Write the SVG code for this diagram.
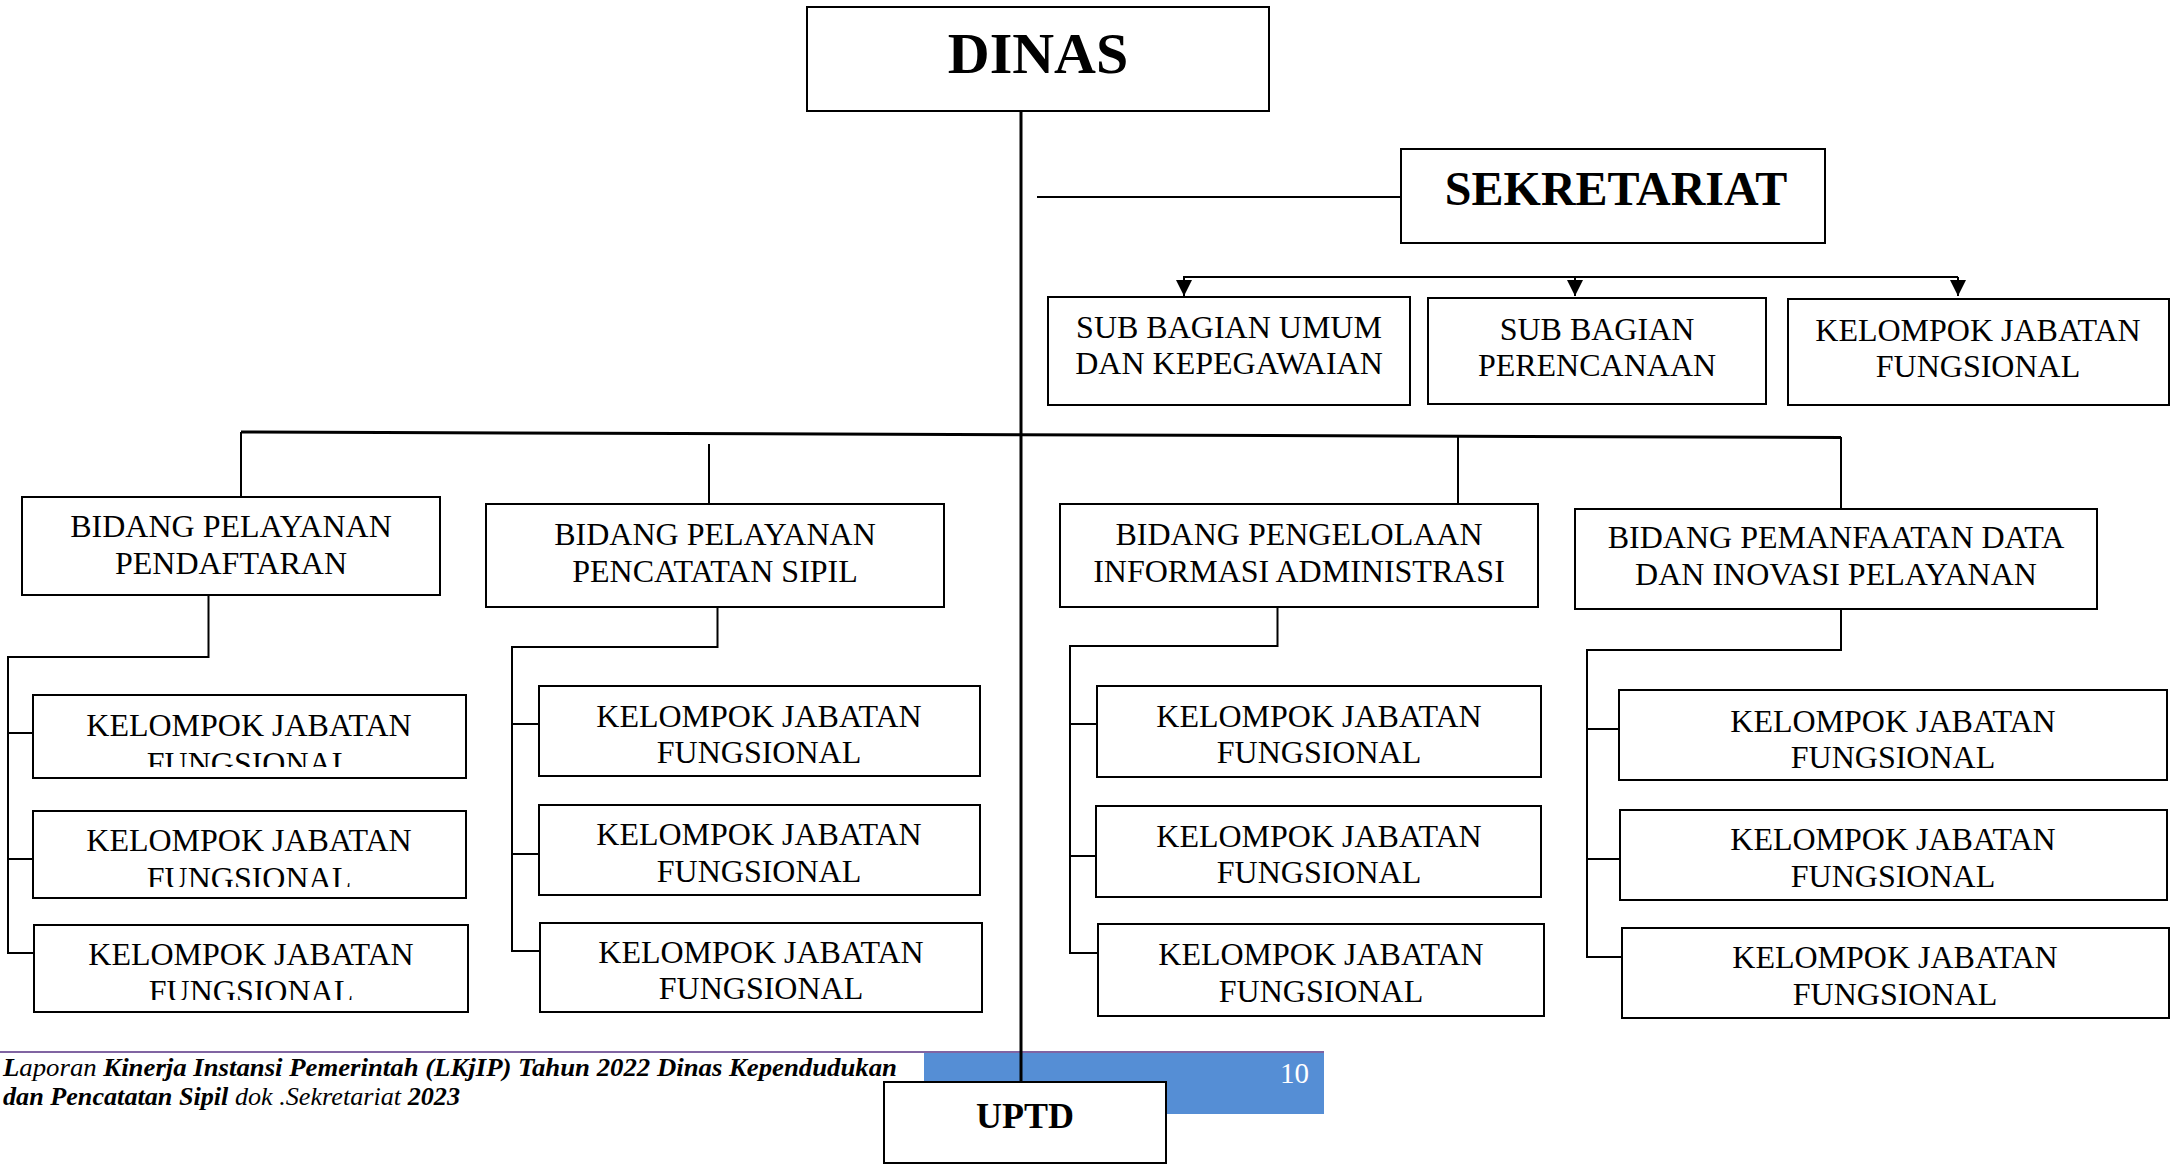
<svg xmlns="http://www.w3.org/2000/svg" width="2179" height="1168" viewBox="0 0 2179 1168">
<defs>
<style>
.box{fill:#fff;stroke:#000;stroke-width:2}
.t{font-family:"Liberation Serif","Times New Roman",serif;font-size:32px;fill:#000;text-anchor:middle}
.tb{font-family:"Liberation Serif","Times New Roman",serif;font-weight:bold;fill:#000;text-anchor:middle}
.ln{fill:none;stroke:#000;stroke-width:2}
.thick{fill:none;stroke:#000;stroke-width:3}
.ft{font-family:"Liberation Serif","Times New Roman",serif;font-size:25px;fill:#000}
</style>
<marker id="arr" viewBox="0 0 16 16" refX="16" refY="8" markerWidth="16" markerHeight="16" markerUnits="userSpaceOnUse" orient="auto">
<path d="M0,0 L16,8 L0,16 z" fill="#000"/>
</marker>
<clipPath id="c1"><rect x="33" y="690" width="433" height="77"/></clipPath>
<clipPath id="c2"><rect x="33" y="805" width="433" height="82"/></clipPath>
<clipPath id="c3"><rect x="34" y="920" width="434" height="80"/></clipPath>
</defs>
<rect width="2179" height="1168" fill="#fff"/>

<g id="footer">
<rect x="924" y="1052" width="400" height="62" fill="#558ED5"/>
<line x1="0" y1="1052" x2="1324" y2="1052" stroke="#8064A2" stroke-width="2"/>
<text x="1309" y="1083" font-family="Liberation Serif, serif" font-size="29" fill="#fff" text-anchor="end">10</text>
<text class="ft" x="3" y="1076" textLength="894" lengthAdjust="spacingAndGlyphs"><tspan font-style="italic" font-weight="bold">L</tspan><tspan font-style="italic">aporan </tspan><tspan font-style="italic" font-weight="bold">Kinerja Instansi Pemerintah (LKjIP) Tahun 2022 Dinas Kependudukan</tspan></text>
<text class="ft" x="3" y="1105" textLength="457" lengthAdjust="spacingAndGlyphs"><tspan font-style="italic" font-weight="bold">dan Pencatatan Sipil</tspan><tspan font-style="italic"> dok .Sekretariat </tspan><tspan font-style="italic" font-weight="bold">2023</tspan></text>
</g>

<g id="connectors">
<line class="thick" x1="1021" y1="111" x2="1021" y2="1082"/>
<line class="ln" x1="1037" y1="197" x2="1401" y2="197"/>
<line class="ln" x1="1183" y1="277" x2="1958" y2="277"/>
<line class="ln" x1="1184" y1="277" x2="1184" y2="296" marker-end="url(#arr)"/>
<line class="ln" x1="1575" y1="277" x2="1575" y2="296" marker-end="url(#arr)"/>
<line class="ln" x1="1958" y1="277" x2="1958" y2="296" marker-end="url(#arr)"/>
<line class="thick" x1="241" y1="432" x2="1841" y2="437.5"/>
<line class="ln" x1="241" y1="432" x2="241" y2="497"/>
<line class="ln" x1="709" y1="444" x2="709" y2="504"/>
<line class="ln" x1="1458" y1="435" x2="1458" y2="504"/>
<line class="ln" x1="1841" y1="437" x2="1841" y2="509"/>
<polyline class="ln" points="208.5,580 208.5,657 8,657 8,953 33,953"/>
<line class="ln" x1="8" y1="733" x2="33" y2="733"/>
<line class="ln" x1="8" y1="859" x2="33" y2="859"/>
<polyline class="ln" points="717.5,607 717.5,647 512,647 512,951 540,951"/>
<line class="ln" x1="512" y1="724" x2="539" y2="724"/>
<line class="ln" x1="512" y1="854" x2="539" y2="854"/>
<polyline class="ln" points="1277.5,605 1277.5,646 1070,646 1070,953 1098,953"/>
<line class="ln" x1="1070" y1="724" x2="1097" y2="724"/>
<line class="ln" x1="1070" y1="856" x2="1096" y2="856"/>
<polyline class="ln" points="1841,609 1841,650 1587,650 1587,957 1622,957"/>
<line class="ln" x1="1587" y1="729" x2="1619" y2="729"/>
<line class="ln" x1="1587" y1="859" x2="1620" y2="859"/>
</g>

<g id="dinas">
<rect class="box" x="807" y="7" width="462" height="104"/>
<text class="tb" x="1038" y="73" font-size="58">DINAS</text>
</g>
<g id="sekretariat">
<rect class="box" x="1401" y="149" width="424" height="94"/>
<text class="tb" x="1616" y="205" font-size="48">SEKRETARIAT</text>
</g>
<g id="sub-umum">
<rect class="box" x="1048" y="297" width="362" height="108"/>
<text class="t" x="1229" y="338">SUB BAGIAN UMUM</text>
<text class="t" x="1229" y="374">DAN KEPEGAWAIAN</text>
</g>
<g id="sub-perencanaan">
<rect class="box" x="1428" y="298" width="338" height="106"/>
<text class="t" x="1597" y="340">SUB BAGIAN</text>
<text class="t" x="1597" y="376">PERENCANAAN</text>
</g>
<g id="sek-kjf">
<rect class="box" x="1788" y="299" width="381" height="106"/>
<text class="t" x="1978" y="341">KELOMPOK JABATAN</text>
<text class="t" x="1978" y="377">FUNGSIONAL</text>
</g>

<g id="bidang-pendaftaran">
<rect class="box" x="22" y="497" width="418" height="98"/>
<text class="t" x="231" y="537">BIDANG PELAYANAN</text>
<text class="t" x="231" y="574">PENDAFTARAN</text>
</g>
<g id="bidang-capil">
<rect class="box" x="486" y="504" width="458" height="103"/>
<text class="t" x="715" y="545">BIDANG PELAYANAN</text>
<text class="t" x="715" y="582">PENCATATAN SIPIL</text>
</g>
<g id="bidang-pia">
<rect class="box" x="1060" y="504" width="478" height="103"/>
<text class="t" x="1299" y="545">BIDANG PENGELOLAAN</text>
<text class="t" x="1299" y="582">INFORMASI ADMINISTRASI</text>
</g>
<g id="bidang-pdip">
<rect class="box" x="1575" y="509" width="522" height="100"/>
<text class="t" x="1836" y="548">BIDANG PEMANFAATAN DATA</text>
<text class="t" x="1836" y="585">DAN INOVASI PELAYANAN</text>
</g>

<g id="kjf-1-1">
<rect class="box" x="33" y="695" width="433" height="83"/>
<text class="t" x="249" y="736">KELOMPOK JABATAN</text>
<text class="t" x="249" y="774" clip-path="url(#c1)">FUNGSIONAL</text>
</g>
<g id="kjf-1-2">
<rect class="box" x="33" y="811" width="433" height="87"/>
<text class="t" x="249" y="851">KELOMPOK JABATAN</text>
<text class="t" x="249" y="889" clip-path="url(#c2)">FUNGSIONAL</text>
</g>
<g id="kjf-1-3">
<rect class="box" x="34" y="925" width="434" height="87"/>
<text class="t" x="251" y="965">KELOMPOK JABATAN</text>
<text class="t" x="251" y="1002" clip-path="url(#c3)">FUNGSIONAL</text>
</g>

<g id="kjf-2-1">
<rect class="box" x="539" y="686" width="441" height="90"/>
<text class="t" x="759" y="727">KELOMPOK JABATAN</text>
<text class="t" x="759" y="763">FUNGSIONAL</text>
</g>
<g id="kjf-2-2">
<rect class="box" x="539" y="805" width="441" height="90"/>
<text class="t" x="759" y="845">KELOMPOK JABATAN</text>
<text class="t" x="759" y="882">FUNGSIONAL</text>
</g>
<g id="kjf-2-3">
<rect class="box" x="540" y="923" width="442" height="89"/>
<text class="t" x="761" y="963">KELOMPOK JABATAN</text>
<text class="t" x="761" y="999">FUNGSIONAL</text>
</g>

<g id="kjf-3-1">
<rect class="box" x="1097" y="686" width="444" height="91"/>
<text class="t" x="1319" y="727">KELOMPOK JABATAN</text>
<text class="t" x="1319" y="763">FUNGSIONAL</text>
</g>
<g id="kjf-3-2">
<rect class="box" x="1096" y="806" width="445" height="91"/>
<text class="t" x="1319" y="847">KELOMPOK JABATAN</text>
<text class="t" x="1319" y="883">FUNGSIONAL</text>
</g>
<g id="kjf-3-3">
<rect class="box" x="1098" y="924" width="446" height="92"/>
<text class="t" x="1321" y="965">KELOMPOK JABATAN</text>
<text class="t" x="1321" y="1002">FUNGSIONAL</text>
</g>

<g id="kjf-4-1">
<rect class="box" x="1619" y="690" width="548" height="90"/>
<text class="t" x="1893" y="732">KELOMPOK JABATAN</text>
<text class="t" x="1893" y="768">FUNGSIONAL</text>
</g>
<g id="kjf-4-2">
<rect class="box" x="1620" y="810" width="547" height="90"/>
<text class="t" x="1893" y="850">KELOMPOK JABATAN</text>
<text class="t" x="1893" y="887">FUNGSIONAL</text>
</g>
<g id="kjf-4-3">
<rect class="box" x="1622" y="928" width="547" height="90"/>
<text class="t" x="1895" y="968">KELOMPOK JABATAN</text>
<text class="t" x="1895" y="1005">FUNGSIONAL</text>
</g>

<g id="uptd">
<rect class="box" x="884" y="1082" width="282" height="81" stroke-width="2.5"/>
<text class="tb" x="1025" y="1128" font-size="36">UPTD</text>
</g>
</svg>
